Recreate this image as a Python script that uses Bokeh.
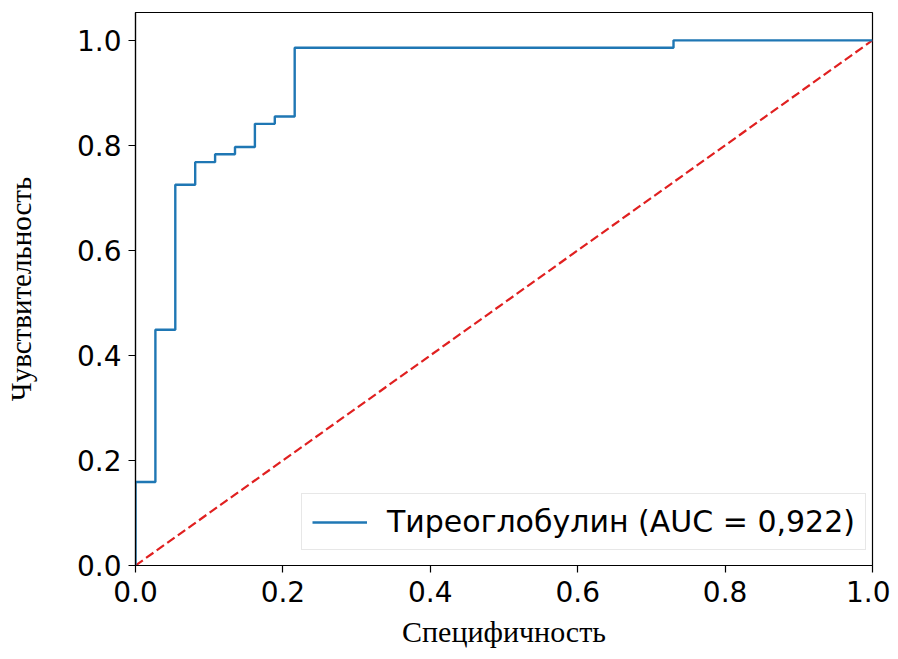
from bokeh.plotting import figure
from bokeh.models import Range1d, FixedTicker, PrintfTickFormatter, Legend, LegendItem
from bokeh.embed import file_html
from bokeh.resources import INLINE

# ROC data
fpr = [0.0, 0.0, 0.027, 0.027, 0.054, 0.054, 0.081, 0.081, 0.108, 0.108,
       0.135, 0.135, 0.162, 0.162, 0.189, 0.189, 0.216, 0.216, 0.730, 0.730, 1.0]
tpr = [0.0, 0.159, 0.159, 0.449, 0.449, 0.725, 0.725, 0.768, 0.768, 0.783,
       0.783, 0.797, 0.797, 0.841, 0.841, 0.855, 0.855, 0.986, 0.986, 1.0, 1.0]
diag_x = [0.0, 1.0]
diag_y = [0.0, 1.0]
ticks = [0.0, 0.2, 0.4, 0.6, 0.8, 1.0]
legend_text = "Тиреоглобулин (AUC = 0,922)"
x_label = "Специфичность"
y_label = "Чувствительность"

W, H = 890, 651
p = figure(width=W, height=H, output_backend="svg", toolbar_location=None,
           x_range=Range1d(0, 1), y_range=Range1d(0, 1.053))
p.min_border_left = 135
p.min_border_right = 18
p.min_border_top = 12
p.min_border_bottom = 86

p.grid.visible = False
p.outline_line_color = "black"
p.outline_line_width = 1.2
p.outline_line_alpha = 1.0
p.background_fill_color = "white"
p.border_fill_color = "white"

for ax in (p.xaxis[0], p.yaxis[0]):
    ax.ticker = FixedTicker(ticks=ticks)
    ax.formatter = PrintfTickFormatter(format="%.1f")
    ax.minor_tick_line_color = None
    ax.major_tick_in = 0
    ax.major_tick_out = 7
    ax.major_tick_line_color = "black"
    ax.major_tick_line_width = 1.2
    ax.axis_line_color = "black"
    ax.axis_line_width = 1.2
    ax.major_label_text_font = "DejaVu Sans"
    ax.major_label_text_font_size = "28px"
    ax.major_label_text_color = "black"
    ax.axis_label_text_font = "Liberation Serif"
    ax.axis_label_text_font_size = "30px"
    ax.axis_label_text_font_style = "normal"
    ax.axis_label_text_color = "black"

p.xaxis.axis_label = x_label
p.yaxis.axis_label = y_label
p.yaxis.axis_label_text_font_size = "29px"
p.xaxis.major_label_standoff = 8
p.xaxis.axis_label_standoff = 10
p.yaxis.major_label_standoff = 7
p.yaxis.axis_label_standoff = 37

p.line(diag_x, diag_y, line_color="#e02020", line_width=2.2, line_dash="9 4")
roc = p.line(fpr, tpr, line_color="#1f77b4", line_width=2.4)

legend = Legend(items=[LegendItem(label=legend_text, renderers=[roc])],
                location=(166, 15))
legend.label_text_font = "DejaVu Sans"
legend.label_text_font_size = "30px"
legend.label_text_color = "black"
legend.glyph_width = 55
legend.glyph_height = 30
legend.label_height = 30
legend.label_standoff = 20
legend.padding = 10
legend.margin = 0
legend.border_line_color = "#d0d0d0"
legend.border_line_width = 1
legend.background_fill_alpha = 0.9
p.add_layout(legend, "center")

open("out.html", "w").write(file_html(p, INLINE))
